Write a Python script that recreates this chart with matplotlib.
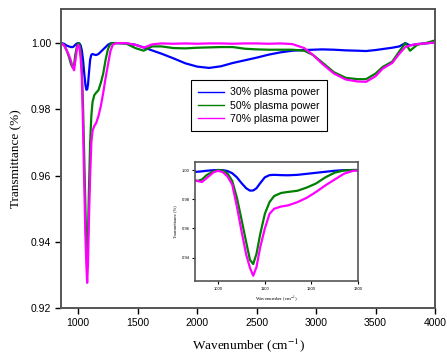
import matplotlib
matplotlib.use('Agg')
import matplotlib.pyplot as plt

plt.rcParams['mathtext.fontset'] = 'stix'

# wavenumber grid (cm-1), dense around the main band
wavenumber = [855, 880, 900, 920, 940, 955, 965, 975, 990, 1000,
              1010, 1020, 1030, 1040, 1050, 1060, 1068, 1075, 1082, 1090,
              1100, 1110, 1120, 1135, 1150, 1170, 1190, 1210, 1230, 1250,
              1270, 1290, 1320, 1400, 1480, 1550, 1620, 1700, 1800, 1900,
              2000, 2100, 2200, 2300, 2400, 2500, 2600, 2700, 2800, 2900,
              2975, 3050, 3150, 3250, 3350, 3420, 3500, 3560, 3640, 3700,
              3750, 3790, 3850, 3920, 4000]

p30 = [1.0, 0.9998, 0.9993, 0.9990, 0.9988, 0.9988, 0.9991, 0.9995, 0.9999, 1.0,
       0.9999, 0.9993, 0.9978, 0.9950, 0.9910, 0.9875, 0.9859, 0.9860, 0.9875, 0.9910,
       0.9950, 0.9965, 0.9967, 0.9965, 0.9964, 0.9967, 0.9974, 0.9981, 0.9988, 0.9995,
       0.9999, 1.0, 1.0, 0.9999, 0.9995, 0.9987, 0.9978, 0.9968, 0.9954, 0.9939,
       0.9929, 0.9925, 0.9930, 0.9940, 0.9948, 0.9956, 0.9965, 0.9972, 0.9977, 0.9979,
       0.9980, 0.9981, 0.9980, 0.9978, 0.9977, 0.9976, 0.9979, 0.9982, 0.9986, 0.9990,
       1.0, 0.9993, 0.9997, 0.9999, 1.0002]

p50 = [1.0, 0.9995, 0.9980, 0.9960, 0.9935, 0.9925, 0.9935, 0.9965, 0.9992, 1.0,
       0.9997, 0.9975, 0.9925, 0.9810, 0.9660, 0.9505, 0.9385, 0.9356, 0.9425, 0.9560,
       0.9700, 0.9780, 0.9822, 0.9843, 0.9850, 0.9858, 0.9880, 0.9908, 0.9950, 0.9982,
       0.9997, 1.0, 1.0, 0.9999, 0.9985, 0.9977, 0.9990, 0.9990, 0.9985, 0.9984,
       0.9986, 0.9987, 0.9988, 0.9988, 0.9983, 0.9981, 0.9980, 0.9980, 0.9980, 0.9977,
       0.9964, 0.9942, 0.9912, 0.9895, 0.9891, 0.9891, 0.9908, 0.9928, 0.9944, 0.9975,
       1.0, 0.9977, 0.9995, 1.0, 1.0008]

p70 = [1.0, 0.9993, 0.9980, 0.9965, 0.9945, 0.9925, 0.9918, 0.9945, 0.9985, 0.9995,
       0.9985, 0.9955, 0.9900, 0.9750, 0.9580, 0.9420, 0.9330, 0.9276, 0.9335, 0.9470,
       0.9600, 0.9700, 0.9735, 0.9750, 0.9758, 0.9780, 0.9810, 0.9850, 0.9895, 0.9935,
       0.9975, 0.9995, 1.0, 1.0, 0.9995, 0.9986, 0.9996, 0.9999, 0.9998, 0.9999,
       0.9998, 0.9999, 0.9999, 0.9998, 0.9999, 0.9999, 0.9998, 0.9999, 0.9997, 0.9985,
       0.9964, 0.9938, 0.9908, 0.9890, 0.9884, 0.9883, 0.9900, 0.9923, 0.9940, 0.9968,
       0.9988, 0.9993, 0.9997, 0.9999, 1.0002]

series = [("30% plasma power", p30, "#0000ff"),
          ("50% plasma power", p50, "#008000"),
          ("70% plasma power", p70, "#ff00ff")]

main_xticks = [1000, 1500, 2000, 2500, 3000, 3500, 4000]
main_yticks = [0.92, 0.94, 0.96, 0.98, 1.00]
inset_xticks = [1000, 1100, 1200, 1300]
inset_yticks = [0.94, 0.96, 0.98, 1.00]

sans = ['Liberation Sans', 'DejaVu Sans']
serif = ['Liberation Serif', 'DejaVu Serif']
frame = '#555555'

fig = plt.figure(figsize=(4.47, 3.58), dpi=100)

# === MAIN ===
ax = fig.add_axes([0.1365, 0.1397, 0.8367, 0.8352])
for label, vals, col in series:
    ax.plot(wavenumber, vals, color=col, linewidth=1.6, label=label)
ax.set_xlim(855, 4000)
ax.set_ylim(0.92, 1.0103)
ax.set_xticks(main_xticks)
ax.set_yticks(main_yticks)
ax.set_yticklabels([f"{v:.2f}" for v in main_yticks])
for sp in ax.spines.values():
    sp.set_color(frame)
    sp.set_linewidth(1.4)
ax.tick_params(direction='out', length=4, width=1, color='black', labelsize=7.5, pad=3)
for t in ax.get_xticklabels() + ax.get_yticklabels():
    t.set_family(sans)
ax.set_xlabel("Wavenumber (cm$^{-1}$)", family=serif, fontsize=9.5, labelpad=6)
ax.set_ylabel("Transmittance (%)", family=serif, fontsize=9.5, labelpad=6)

leg = ax.legend(loc='upper left', bbox_to_anchor=(191 / 447, 1 - 80 / 358),
                bbox_transform=fig.transFigure, prop={'family': sans, 'size': 7.6},
                fancybox=False, framealpha=1, edgecolor='black', handlelength=2.4,
                handletextpad=0.6, labelspacing=0.3, borderpad=0.7, borderaxespad=0)
leg.get_frame().set_linewidth(0.8)
for h in leg.get_lines():
    h.set_linewidth(1.0)

# === INSET ===
ins = fig.add_axes([0.4362, 0.2151, 0.3647, 0.3324])
for label, vals, col in series:
    ins.plot(wavenumber, vals, color=col, linewidth=1.6)
ins.set_xlim(950, 1300)
ins.set_ylim(0.924, 1.0055)
ins.set_xticks(inset_xticks)
ins.set_yticks(inset_yticks)
ins.set_yticklabels([f"{v:.2f}" for v in inset_yticks])
for sp in ins.spines.values():
    sp.set_color(frame)
    sp.set_linewidth(1.2)
ins.tick_params(direction='out', length=2, width=0.8, color='black', labelsize=3, pad=2)
for t in ins.get_xticklabels() + ins.get_yticklabels():
    t.set_family(sans)
ins.set_xlabel("Wavenumber (cm$^{-1}$)", family=serif, fontsize=3.5, labelpad=3)
ins.set_ylabel("Transmittance (%)", family=serif, fontsize=3.2, labelpad=3)

fig.savefig("out.png", dpi=100)
